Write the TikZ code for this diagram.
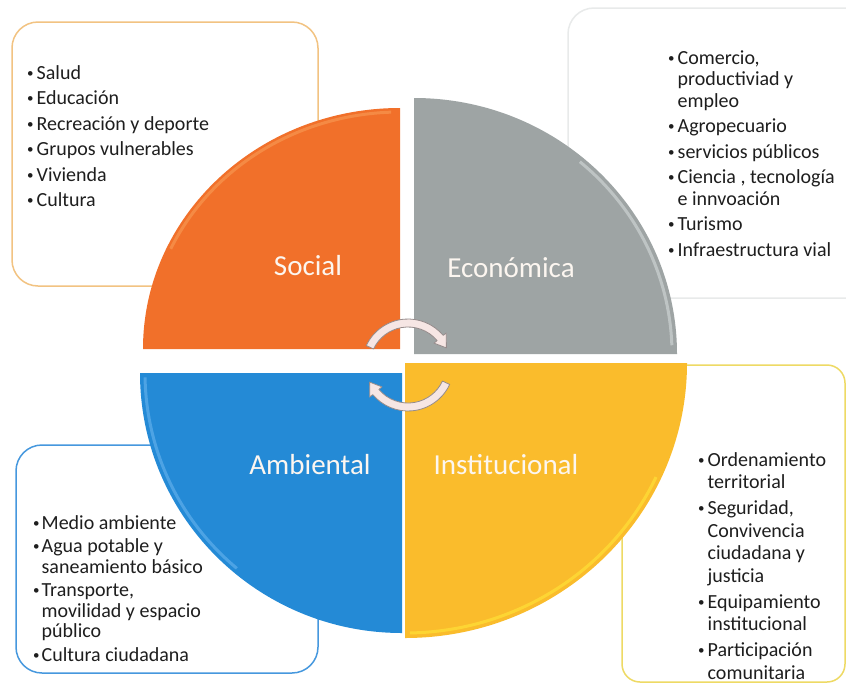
\documentclass[tikz,border=0pt]{standalone}
\usepackage{fontspec}
\setmainfont{Carlito}
\definecolor{socialc}{RGB}{241,112,42}
\definecolor{sociallt}{RGB}{247,150,80}
\definecolor{econc}{RGB}{158,164,164}
\definecolor{econlt}{RGB}{205,210,210}
\definecolor{ambc}{RGB}{36,138,214}
\definecolor{amblt}{RGB}{95,175,235}
\definecolor{instc}{RGB}{250,188,44}
\definecolor{instlt}{RGB}{255,225,55}
\definecolor{socbord}{RGB}{242,195,130}
\definecolor{econbord}{RGB}{232,234,234}
\definecolor{ambbord}{RGB}{70,152,222}
\definecolor{instbord}{RGB}{238,218,100}
\definecolor{txt}{RGB}{30,30,30}
\definecolor{arrfill}{RGB}{246,230,228}
\definecolor{arrline}{RGB}{150,140,140}
\newcommand{\bl}{\raisebox{1.6pt}{\fontsize{13}{13}\selectfont\textbullet}}
\begin{document}
\begin{tikzpicture}[x=1pt,y=-1pt,
  listbox/.style={line width=1.5pt, rounded corners=26pt},
  listtext/.style={anchor=base west, inner sep=0pt, text=txt},
  quadlabel/.style={text={rgb,255:red,252;green,246;blue,240}, font=\fontsize{29}{34}\selectfont, inner sep=0pt},
  bevel/.style={line width=3pt, opacity=0.7},
  cyclearrow/.style={fill=arrfill, draw=arrline, line width=0.8pt, line join=round}]
\useasboundingbox (0,0) rectangle (846,683);
\fill[white] (0,0) rectangle (846,683);

% list boxes (behind the circle)
\draw[listbox, draw=socbord] (12,22) rectangle (318,286);
\draw[listbox, draw=econbord] (568,8) rectangle (880,298);
\draw[listbox, draw=ambbord] (16,445) rectangle (318,673);
\draw[listbox, draw=instbord, rounded corners=18pt] (622,365) rectangle (845,682);

% quadrants
\fill[socialc] (400,349) -- ++(180:257 and 241) arc[start angle=180, end angle=270, x radius=257, y radius=241] -- cycle;
\fill[econc] (414,354) -- ++(270:263 and 256) arc[start angle=270, end angle=360, x radius=263, y radius=256] -- cycle;
\fill[instc] (405,363) -- ++(0:282 and 275) arc[start angle=0, end angle=90, x radius=282, y radius=275] -- cycle;
\fill[ambc] (402,373) -- ++(90:262 and 260) arc[start angle=90, end angle=180, x radius=262, y radius=260] -- cycle;

% bevel highlights
\draw[bevel, sociallt] (400,349) ++(205:253 and 237) arc[start angle=205, end angle=268, x radius=253, y radius=237];
\draw[bevel, econlt] (414,354) ++(310:258 and 251) arc[start angle=310, end angle=358, x radius=258, y radius=251];
\draw[bevel, instlt] (405,363) ++(25:277 and 270) arc[start angle=25, end angle=89, x radius=277, y radius=270];
\draw[bevel, amblt] (402,373) ++(130:257 and 255) arc[start angle=130, end angle=179, x radius=257, y radius=255];

% quadrant labels
\node[quadlabel] (social) at (308,266) {Social};
\node[quadlabel] (econ) at (511,268) {Económica};
\node[quadlabel] (amb) at (310,465) {Ambiental};
\node[quadlabel] (inst) at (506,465) {Institucional};

% cycle arrows
\begin{scope}[shift={(408,365)}]
\filldraw[cyclearrow] (205:46) arc[start angle=205, end angle=320, radius=46] -- (320:50) -- (336:42) -- (320:34) -- (320:38) arc[start angle=320, end angle=205, radius=38] -- cycle;
\filldraw[cyclearrow] (25:46) arc[start angle=25, end angle=140, radius=46] -- (140:50) -- (156:42) -- (140:34) -- (140:38) arc[start angle=140, end angle=25, radius=38] -- cycle;
\end{scope}

% lists
\node[listtext, font=\fontsize{20}{21.5}\selectfont] (soclist) at (27,79) {%
\begin{tabular}[t]{@{}l@{\hspace{3pt}}l@{}}
\bl & Salud\\[4pt]
\bl & Educación\\[4pt]
\bl & Recreación y deporte\\[4pt]
\bl & Grupos vulnerables\\[4pt]
\bl & Vivienda\\[4pt]
\bl & Cultura
\end{tabular}};

\node[listtext, font=\fontsize{20}{21.5}\selectfont] (econlist) at (668,64) {%
\begin{tabular}[t]{@{}l@{\hspace{3pt}}l@{}}
\bl & Comercio,\\
 & productiviad y\\
 & empleo\\[4pt]
\bl & Agropecuario\\[4pt]
\bl & servicios públicos\\[4pt]
\bl & Ciencia , tecnología\\
 & e innvoación\\[4pt]
\bl & Turismo\\[4pt]
\bl & Infraestructura vial
\end{tabular}};

\node[listtext, font=\fontsize{20}{22.5}\selectfont] (instlist) at (698,466) {%
\begin{tabular}[t]{@{}l@{\hspace{3pt}}l@{}}
\bl & Ordenamiento\\
 & territorial\\[3.5pt]
\bl & Seguridad,\\
 & Convivencia\\
 & ciudadana y\\
 & justicia\\[3.5pt]
\bl & Equipamiento\\
 & institucional\\[3.5pt]
\bl & Participación\\
 & comunitaria
\end{tabular}};

\node[listtext, font=\fontsize{20}{20.5}\selectfont] (amblist) at (33,529) {%
\begin{tabular}[t]{@{}l@{\hspace{2pt}}l@{}}
\bl & Medio ambiente\\[3pt]
\bl & Agua potable y\\
 & saneamiento básico\\[3pt]
\bl & Transporte,\\
 & movilidad y espacio\\
 & público\\[3pt]
\bl & Cultura ciudadana
\end{tabular}};
\end{tikzpicture}
\end{document}
